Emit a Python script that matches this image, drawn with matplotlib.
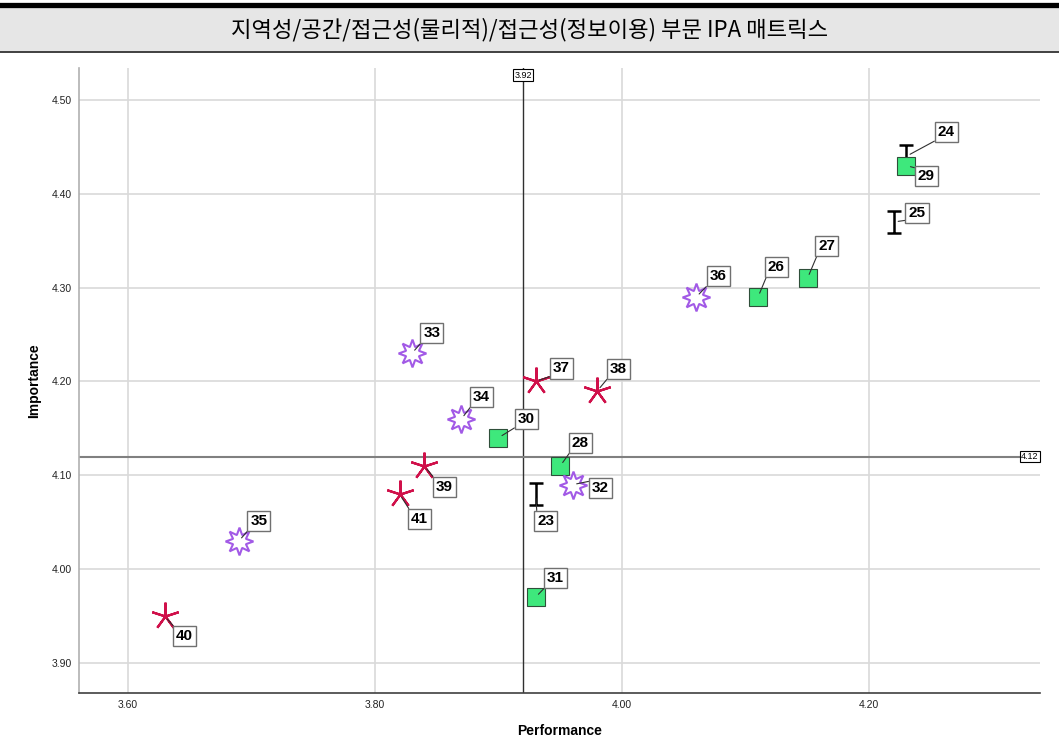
import matplotlib
matplotlib.use('Agg')
import matplotlib.pyplot as plt
from matplotlib.path import Path
from matplotlib.patches import Rectangle
from matplotlib.lines import Line2D
import numpy as np

plt.rcParams['font.family'] = ['Liberation Sans', 'DejaVu Sans']

# Data ------------------------------------------------------------------------
ids = [23, 24, 25, 26, 27, 28, 29, 30, 31, 32, 33, 34, 35, 36, 37, 38, 39, 40, 41]
performance = [3.93, 4.23, 4.22, 4.11, 4.15, 3.95, 4.23, 3.90, 3.93, 3.96,
               3.83, 3.87, 3.69, 4.06, 3.93, 3.98, 3.84, 3.63, 3.82]
importance = [4.08, 4.44, 4.37, 4.29, 4.31, 4.11, 4.43, 4.14, 3.97, 4.09,
              4.23, 4.16, 4.03, 4.29, 4.20, 4.19, 4.11, 3.95, 4.08]
group = ['ibar', 'ibar', 'ibar', 'sq', 'sq', 'sq', 'sq', 'sq', 'sq', 'star',
         'star', 'star', 'star', 'star', 'ast', 'ast', 'ast', 'ast', 'ast']
perf_ref = 3.92
imp_ref = 4.12
title = '지역성/공간/접근성(물리적)/접근성(정보이용) 부문 IPA 매트릭스'

# label box offsets (pixels from the marker)
label_offset = {23: (10, -27), 24: (40, 24), 25: (23, 9), 26: (18, 30),
                27: (19, 32), 28: (20, 23), 29: (20, -10), 30: (28, 19),
                31: (20, 19), 32: (28, -3), 33: (20, 20), 34: (20, 22),
                35: (20, 20), 36: (22, 21), 37: (26, 13), 38: (21, 22),
                39: (20, -21), 40: (20, -20), 41: (20, -25)}

# -----------------------------------------------------------------------------
ibar = Path([(0, -1), (0, 1), (-0.6, 1), (0.6, 1), (-0.6, -1), (0.6, -1)],
            [Path.MOVETO, Path.LINETO, Path.MOVETO, Path.LINETO,
             Path.MOVETO, Path.LINETO])

styles = {
    'sq': dict(marker='s', ms=13, mfc='#3ee87c', mec='#2f4f3a', mew=0.8),
    'ibar': dict(marker=ibar, ms=16, mfc='none', mec='black', mew=1.8),
    'star': dict(marker=(8, 1, 0), ms=20, mfc='white', mec='#a25ae6', mew=1.5),
    'ast': dict(marker=(5, 2, 0), ms=20, mfc='none', mec='#d0104a', mew=1.6),
}

fig = plt.figure(figsize=(10.59, 7.5), dpi=100)

# title bar
fig.patches.append(Rectangle((0, 1 - 52 / 750), 1, 44 / 750, transform=fig.transFigure,
                             facecolor='#e6e6e6', edgecolor='none', zorder=0))
fig.add_artist(Line2D([0, 1], [1 - 5 / 750] * 2, color='black', lw=3.8))
fig.add_artist(Line2D([0, 1], [1 - 52 / 750] * 2, color='#404040', lw=1.4))
fig.text(0.5, 1 - 30 / 750, title, ha='center', va='center', fontsize=16,
         family=['Noto Sans CJK KR', 'DejaVu Sans'])

ax = fig.add_axes([0.0749, 0.076, 0.982 - 0.0749, 0.9093 - 0.076])
ax.set_xlim(3.561, 4.338)
ax.set_ylim(3.868, 4.534)
ax.set_xticks([3.6, 3.8, 4.0, 4.2])
ax.set_yticks([3.9, 4.0, 4.1, 4.2, 4.3, 4.4, 4.5])
ax.xaxis.set_major_formatter(matplotlib.ticker.FormatStrFormatter('%.2f'))
ax.yaxis.set_major_formatter(matplotlib.ticker.FormatStrFormatter('%.2f'))
ax.tick_params(length=0, labelsize=7.5, colors='#222222', pad=5)
ax.grid(True, color='#d9d9d9', lw=1.2)
ax.set_axisbelow(True)
for s in ['top', 'right']:
    ax.spines[s].set_visible(False)
ax.spines['left'].set_color('#b0b0b0')
ax.spines['left'].set_linewidth(1.2)
ax.spines['bottom'].set_color('#404040')
ax.spines['bottom'].set_linewidth(1.2)

ax.set_xlabel('Performance', fontsize=10, fontweight='bold', labelpad=10)
ax.set_ylabel('Importance', fontsize=10, fontweight='bold', labelpad=8)

# reference lines
ax.axvline(perf_ref, color='#303030', lw=1.0, zorder=1)
ax.axhline(imp_ref, color='#808080', lw=1.5, zorder=1)
ax.text(perf_ref, 4.531, '%.2f' % perf_ref, ha='center', va='top', fontsize=6.5,
        bbox=dict(boxstyle='square,pad=0.15', fc='white', ec='black', lw=0.8), zorder=5)
ax.text(4.337, imp_ref, '%.2f' % imp_ref, ha='right', va='center', fontsize=6.5,
        bbox=dict(boxstyle='square,pad=0.15', fc='white', ec='black', lw=0.8), zorder=5)

order = ['ibar', 'sq', 'star', 'ast']
for g in order:
    xs = [p for p, gg in zip(performance, group) if gg == g]
    ys = [v for v, gg in zip(importance, group) if gg == g]
    ax.plot(xs, ys, ls='none', zorder=3, **styles[g])

for i, x, y in zip(ids, performance, importance):
    dx, dy = label_offset[i]
    rel = (0, 0) if dy > 0 else (0, 1)
    ax.annotate(str(i), xy=(x, y), xytext=(dx, dy), textcoords='offset pixels',
                ha='center', va='center', fontsize=11, fontweight='bold',
                bbox=dict(boxstyle='square,pad=0.2', fc='white', ec='#707070', lw=1),
                arrowprops=dict(arrowstyle='-', color='#303030', lw=0.8,
                                shrinkA=0, shrinkB=3, relpos=rel),
                zorder=6)

plt.savefig('out.png', dpi=100)
